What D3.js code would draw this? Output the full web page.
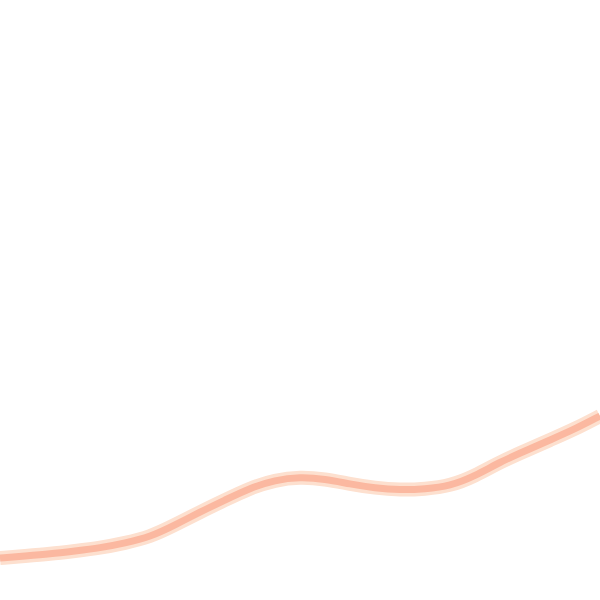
<!DOCTYPE html>
<html>
<head>
<meta charset="utf-8">
<script src="https://cdn.jsdelivr.net/npm/d3@7"></script>
<style>
  html, body { margin: 0; padding: 0; background: #fff; overflow: hidden; }
</style>
</head>
<body>
<div id="container"></div>
<script>
//Series
var steps = [0, 1, 2, 3, 4, 5, 6, 7, 8, 9, 10, 11, 12, 13, 14, 15, 16, 17, 18, 19, 20, 21, 22, 23, 24];
var values = [42, 44, 46, 49, 52, 57, 63, 75, 88, 100, 112, 120, 123, 121, 116, 112, 110, 111, 114, 124, 138, 149, 160, 171, 184];

var w = 600;
var h = 600;

var svg = d3.select('#container')
	.append("svg")
	.attr("width", w)
	.attr("height", h);

var xScale = d3.scaleLinear()
	.domain([0, 24])
	.range([0, w]);

var yScale = d3.scaleLinear()
	.domain([0, 600])
	.range([h, 0]);

var line = d3.line()
	.x(function(d, i) { return xScale(steps[i]); })
	.y(function(d) { return yScale(d); })
	.curve(d3.curveBasis);

//Soft outer band, then the darker core
svg.append("path")
	.datum(values)
	.attr("d", line)
	.attr("fill", "none")
	.attr("stroke", "#fde0cf")
	.attr("stroke-width", 14);

svg.append("path")
	.datum(values)
	.attr("d", line)
	.attr("fill", "none")
	.attr("stroke", "#fbb8a0")
	.attr("stroke-width", 7);
</script>
</body>
</html>
